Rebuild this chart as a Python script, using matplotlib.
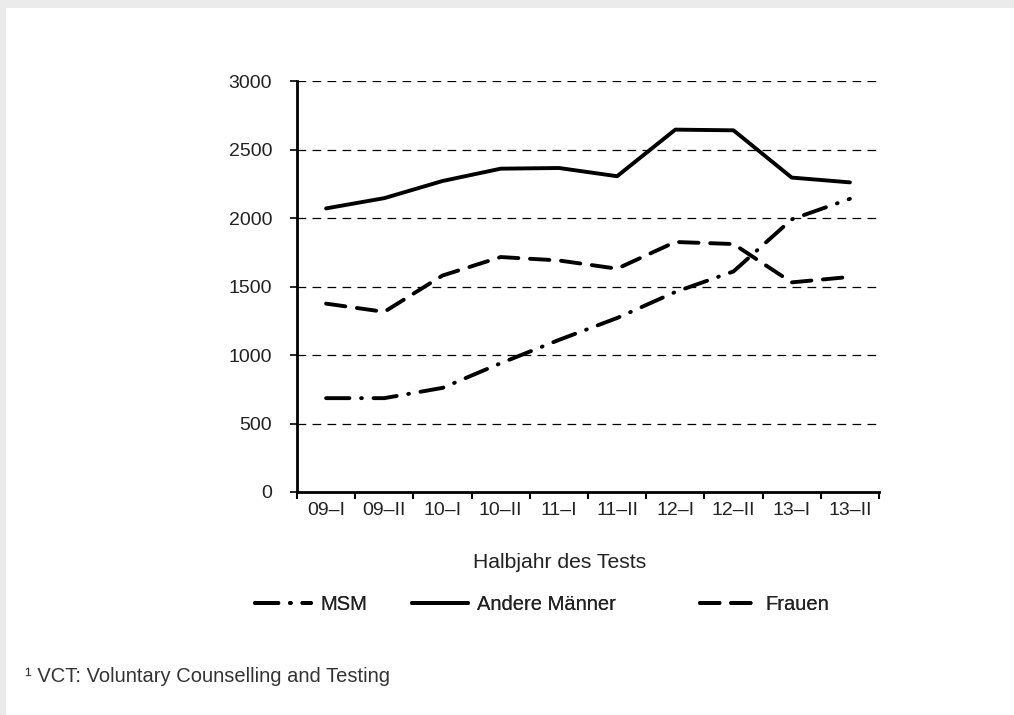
import matplotlib
matplotlib.use( 'Agg' )
import matplotlib.pyplot as plt
from matplotlib.patches import Rectangle

# data
HALBJAHRE = [ '09–I', '09–II', '10–I', '10–II', '11–I', '11–II', '12–I', '12–II', '13–I', '13–II' ]
MSM       = [ 685, 685, 760, 940, 1110, 1270, 1460, 1610, 1990, 2140 ]
ANDERE    = [ 2070, 2145, 2270, 2360, 2365, 2305, 2645, 2640, 2295, 2260 ]
FRAUEN    = [ 1375, 1315, 1580, 1715, 1690, 1630, 1825, 1810, 1530, 1570 ]
YTICKS    = [ 0, 500, 1000, 1500, 2000, 2500, 3000 ]
SERIEN    = [ 'MSM', 'Andere Männer', 'Frauen' ]

# configure
plt.rcParams[ 'font.family' ] = [ 'Liberation Sans', 'DejaVu Sans' ]
TEXT = '#222222'
SIZE = 14

# initialize
figure = plt.figure( figsize=( 10.14, 7.15 ), dpi=100 )
figure.patch.set_facecolor( 'white' )

# grey frame on top and left
figure.patches.append( Rectangle( ( 0, 0 ), 1, 1, transform=figure.transFigure, facecolor='#ebebeb', edgecolor='none', zorder=-2 ) )
figure.patches.append( Rectangle( ( 6/1014, 0 ), 1, 1 - 8/715, transform=figure.transFigure, facecolor='white', edgecolor='none', zorder=-1 ) )

axis = figure.add_axes( [ 297/1014, 223/715, 582/1014, 411/715 ] )
axis.set_facecolor( 'none' )

# plot
x = list( range( len( HALBJAHRE ) ) )
msm,    = axis.plot( x, MSM,    color='black', lw=2.8, linestyle=( 0, ( 6, 3, 0.2, 3 ) ), dash_capstyle='round', zorder=3 )
andere, = axis.plot( x, ANDERE, color='black', lw=2.8, solid_capstyle='round', solid_joinstyle='round', zorder=3 )
frauen, = axis.plot( x, FRAUEN, color='black', lw=2.8, linestyle=( 0, ( 5, 3 ) ), dash_capstyle='round', zorder=3 )

# axes
axis.set_xlim( -0.5, len( HALBJAHRE ) - 0.5 )
axis.set_ylim( 0, 3000 )
axis.set_yticks( YTICKS )
axis.set_yticklabels( [ str( t ) for t in YTICKS ], fontsize=SIZE, color=TEXT )
axis.set_xticks( [ i - 0.5 for i in range( len( HALBJAHRE ) + 1 ) ] )
axis.set_xticklabels( [] )
axis.set_xticks( x, minor=True )
axis.set_xticklabels( HALBJAHRE, minor=True, fontsize=SIZE, color=TEXT )
axis.tick_params( axis='x', which='minor', length=0, pad=7 )
axis.tick_params( axis='x', which='major', length=5, width=1.5, direction='out' )
axis.tick_params( axis='y', length=5, width=1.2, direction='out', pad=13 )

for side in [ 'top', 'right' ] : axis.spines[ side ].set_visible( False )
axis.spines[ 'left' ].set_linewidth( 2 )
axis.spines[ 'bottom' ].set_linewidth( 2 )

# gridlines
for t in YTICKS[ 1: ] :
	axis.axhline( t, color='black', lw=0.9, linestyle=( 0, ( 7, 5 ) ), zorder=1 )

# labels
figure.text( 560/1014, 1 - 562/715, 'Halbjahr des Tests', ha='center', va='center', fontsize=SIZE + 1.2, color=TEXT )

# legend, one entry at a time
for handle, label, left in zip( [ msm, andere, frauen ], SERIEN, [ 255, 412, 700 ] ) :
	legend = figure.legend( [ handle ], [ label ], loc='center left', bbox_to_anchor=( left/1014, 1 - 605/715 ),
		frameon=False, fontsize=SIZE + 0.5, handlelength=2.8, handletextpad=0.45, borderpad=0, borderaxespad=0, labelcolor=TEXT )
	figure.add_artist( legend )

figure.text( 25/1014, 1 - 676/715, '¹ VCT: Voluntary Counselling and Testing', ha='left', va='center', fontsize=SIZE + 0.5, color='#333333' )

# save
plt.savefig( 'out.png', dpi=100 )
